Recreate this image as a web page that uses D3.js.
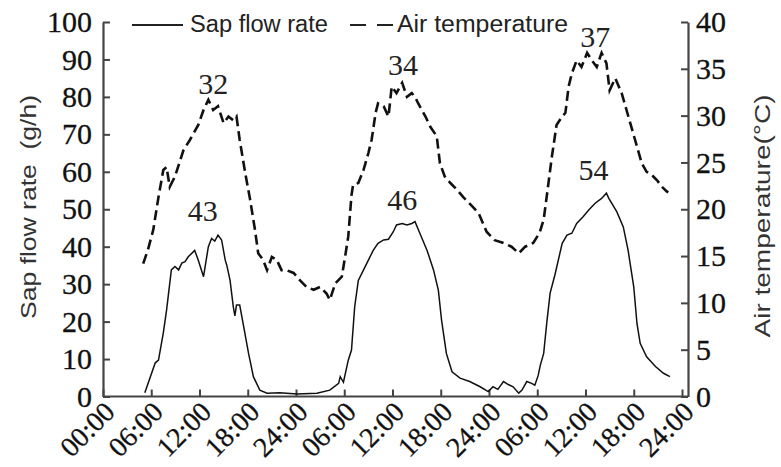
<!DOCTYPE html>
<html>
<head>
<meta charset="utf-8">
<script src="https://cdn.jsdelivr.net/npm/d3@7"></script>
<style>
  body { margin: 0; background: #fff; }
  svg { display: block; }
</style>
</head>
<body>
<svg id="chart"></svg>
<script>
// hours since 00:00 of day 1
const sapHours = [5.2, 6.5, 6.9, 7.5, 7.9, 8.5, 8.95, 9.4, 9.8, 10.2, 10.6, 11.4, 11.85, 12.5, 13.1, 13.5, 13.9, 14.3, 14.75, 15.2, 15.4, 15.8, 16.2, 16.4, 16.6, 17.0, 17.5, 18.1, 18.7, 19.5, 20.4, 22, 24.1, 26.6, 28.2, 29.3, 29.5, 29.9, 30.5, 30.9, 31.3, 31.75, 32.4, 33, 33.6, 34.2, 34.9, 35.5, 36.1, 36.5, 37.2, 37.8, 38.4, 38.8, 39.4, 40.3, 41.1, 41.7, 42.1, 42.7, 43.4, 44.4, 45.6, 46.9, 47.9, 48.5, 49.1, 49.8, 50.4, 51, 51.7, 52.1, 52.7, 53.3, 53.7, 54.1, 54.4, 54.8, 55.2, 55.6, 56.2, 57.1, 57.7, 58.3, 58.9, 59.7, 60.4, 61.2, 62, 62.6, 62.9, 63.9, 64.7, 65.3, 66, 66.4, 66.8, 67.6, 68.7, 69.7, 70.5];
const sapFlow = [1, 9, 9.7, 17, 23, 33.8, 34.7, 33.8, 35.6, 36, 37.3, 39, 36.4, 32, 40, 42.2, 41.5, 43.1, 41.8, 36.4, 35, 31, 24, 21.5, 24.4, 24.4, 18.6, 11.5, 5.3, 1.7, 0.9, 1, 0.7, 0.9, 1.7, 3.5, 5.3, 3.8, 9.7, 12.4, 24, 31, 33.8, 36.4, 39, 40.9, 41.8, 42, 44, 45.8, 46.2, 45.8, 46.2, 46.7, 43.6, 39, 33.8, 28.4, 20.4, 11.5, 6.6, 4.9, 4, 2.6, 1.3, 2.6, 1.9, 4, 3.2, 2.6, 0.9, 1.7, 4, 3.5, 3.0, 5.5, 8.5, 11.5, 20, 27.6, 32.5, 40.9, 43.1, 43.6, 46.2, 48, 49.8, 51.6, 52.9, 54.3, 52.9, 49.3, 45.3, 39, 29.3, 19.5, 14.2, 10.6, 8, 6.2, 5.3];

const tempHours = [5.0, 5.6, 6.25, 6.9, 7.5, 7.9, 8.3, 8.95, 10, 10.8, 11.85, 12.5, 13.1, 13.7, 14.3, 15, 15.6, 16.2, 16.6, 17.0, 17.7, 18.3, 18.9, 19.3, 19.9, 20.4, 21, 21.6, 22.2, 22.8, 23.7, 24.5, 25.3, 26.2, 27, 27.8, 28.2, 28.9, 29.7, 30.1, 30.5, 30.9, 31.1, 31.75, 32.4, 33, 33.4, 33.9, 34.2, 34.9, 35.5, 35.9, 36.5, 37.2, 37.8, 38.4, 38.8, 39.2, 40.1, 40.7, 41.5, 41.9, 42.5, 43.2, 44, 44.8, 45.6, 46.7, 47.7, 48.7, 49.8, 50.8, 51.7, 52.5, 53.5, 54.3, 54.8, 55.2, 55.8, 56.4, 57.1, 57.5, 57.9, 58.3, 58.9, 59.5, 60.2, 60.8, 61.4, 62, 62.6, 63, 63.7, 64.5, 65.1, 65.8, 66.4, 67, 67.6, 68.2, 68.9, 69.5, 70.1, 70.3];
const airTemp = [14.2, 15.7, 17.8, 21.3, 24.2, 24.5, 22.4, 23.5, 26.3, 27.4, 29, 30.6, 31.7, 30.6, 31, 29.2, 29.9, 29.5, 29.9, 27.4, 23.8, 21, 17.8, 15.3, 14.6, 13.5, 14.9, 14.6, 13.5, 13.5, 13.2, 12.4, 11.7, 11.4, 11.7, 11, 10.3, 12.1, 12.8, 14.9, 17.1, 21.5, 22.6, 22.8, 24.2, 26, 27.4, 30.3, 31.3, 31, 29.9, 33.1, 32.4, 33.5, 32, 32.4, 32, 31.3, 29.9, 28.8, 27.8, 24.9, 23.5, 22.8, 22.1, 21.3, 20.6, 19.6, 17.6, 16.7, 16.4, 16, 15.3, 16, 16.4, 17.5, 18.9, 21.5, 25.5, 29, 29.9, 30.3, 33.1, 34.5, 35.9, 35.2, 36.7, 35.9, 35.2, 36.7, 35.6, 32.7, 34, 32.4, 30.6, 28.5, 26.7, 24.9, 24, 23.7, 23.1, 22.4, 21.9, 21.8];

const tickHours = [0, 6, 12, 18, 24, 30, 36, 42, 48, 54, 60, 66, 72];
const tickLabels = ["00:00", "06:00", "12:00", "18:00", "24:00", "06:00", "12:00", "18:00", "24:00", "06:00", "12:00", "18:00", "24:00"];

// daily peak annotations
const sapPeakHours = [12.4, 37.2, 61];
const sapPeaks = [43, 46, 54];
const tempPeakHours = [13.7, 37.3, 61.2];
const tempPeaks = [32, 34, 37];

const width = 781, height = 467;
const plotLeft = 103, plotRight = 682, frameRight = 688, plotTop = 22, plotBottom = 396.5;

const svg = d3.select("#chart")
  .attr("width", width)
  .attr("height", height)
  .style("background", "#fff");

const x = d3.scaleLinear().domain([0, 72]).range([plotLeft, plotRight]);
const yL = d3.scaleLinear().domain([0, 100]).range([plotBottom, plotTop]);
const yR = d3.scaleLinear().domain([0, 40]).range([plotBottom, plotTop]);

const serif = "'Liberation Serif', 'Times New Roman', serif";
const sans = "'Liberation Sans', Arial, sans-serif";
const axisColor = "#444";

// left axis
const gL = svg.append("g")
  .attr("transform", `translate(${plotLeft},0)`)
  .call(d3.axisLeft(yL).ticks(10).tickSizeInner(-7).tickSizeOuter(0).tickPadding(11));

// right axis
const gR = svg.append("g")
  .attr("transform", `translate(${frameRight},0)`)
  .call(d3.axisRight(yR).tickValues(d3.range(0, 41, 5)).tickSizeInner(-7).tickSizeOuter(0).tickPadding(8));

// bottom axis
const gB = svg.append("g")
  .attr("transform", `translate(0,${plotBottom})`)
  .call(d3.axisBottom(x).tickValues(tickHours).tickFormat((d, i) => tickLabels[i]).tickSizeInner(-7).tickSizeOuter(0));

gB.select(".domain").remove();
gB.append("line")
  .attr("x1", plotLeft).attr("x2", frameRight)
  .attr("stroke", axisColor).attr("stroke-width", 2.2);

[gL, gR, gB].forEach(g => {
  g.selectAll(".domain").attr("stroke", axisColor).attr("stroke-width", 2.2);
  g.selectAll(".tick line").attr("stroke", axisColor).attr("stroke-width", 2);
  g.selectAll(".tick text")
    .style("font-family", serif)
    .style("font-size", "30px")
    .attr("fill", "#111")
    .attr("stroke", "#111")
    .attr("stroke-width", 0.3);
});

gB.selectAll(".tick text")
  .style("font-size", "28px")
  .attr("y", 0).attr("dy", 0)
  .attr("text-anchor", "end")
  .attr("transform", "translate(13,17) rotate(-45)");

// lines
const sapData = sapHours.map((h, i) => [h, sapFlow[i]]);
const tempData = tempHours.map((h, i) => [h, airTemp[i]]);

svg.append("path")
  .datum(tempData)
  .attr("fill", "none")
  .attr("stroke", "#111")
  .attr("stroke-width", 2.6)
  .attr("stroke-dasharray", "10,5")
  .attr("d", d3.line().x(d => x(d[0])).y(d => yR(d[1])));

svg.append("path")
  .datum(sapData)
  .attr("fill", "none")
  .attr("stroke", "#111")
  .attr("stroke-width", 1.5)
  .attr("d", d3.line().x(d => x(d[0])).y(d => yL(d[1])));

// peak labels
svg.selectAll(".sap-peak")
  .data(sapPeaks)
  .enter()
  .append("text")
  .attr("class", "sap-peak")
  .attr("x", (d, i) => x(sapPeakHours[i]))
  .attr("y", d => yL(d) - 14)
  .attr("text-anchor", "middle")
  .style("font-family", serif)
  .style("font-size", "30px")
  .attr("fill", "#222")
  .text(d => d);

svg.selectAll(".temp-peak")
  .data(tempPeaks)
  .enter()
  .append("text")
  .attr("class", "temp-peak")
  .attr("x", (d, i) => x(tempPeakHours[i]))
  .attr("y", d => yR(d) - 3)
  .attr("text-anchor", "middle")
  .style("font-family", serif)
  .style("font-size", "30px")
  .attr("fill", "#222")
  .text(d => d);

// axis titles
svg.append("text")
  .attr("transform", "translate(36,207) rotate(-90)")
  .attr("text-anchor", "middle")
  .style("font-family", sans)
  .style("font-size", "22px")
  .attr("fill", "#333")
  .attr("textLength", 224)
  .attr("lengthAdjust", "spacingAndGlyphs")
  .attr("xml:space", "preserve")
  .text("Sap flow rate  (g/h)");

svg.append("text")
  .attr("transform", "translate(770,216) rotate(-90)")
  .attr("text-anchor", "middle")
  .style("font-family", sans)
  .style("font-size", "22px")
  .attr("fill", "#333")
  .attr("textLength", 243)
  .attr("lengthAdjust", "spacingAndGlyphs")
  .text("Air temperature(°C)");

// legend
const legend = svg.append("g");
legend.append("line")
  .attr("x1", 132).attr("x2", 183).attr("y1", 25).attr("y2", 25)
  .attr("stroke", "#222").attr("stroke-width", 1.8);
legend.append("text")
  .attr("x", 190).attr("y", 32)
  .style("font-family", sans).style("font-size", "23px")
  .attr("fill", "#222")
  .attr("textLength", 138)
  .attr("lengthAdjust", "spacingAndGlyphs")
  .text("Sap flow rate");
legend.append("line")
  .attr("x1", 350).attr("x2", 393).attr("y1", 25).attr("y2", 25)
  .attr("stroke", "#222").attr("stroke-width", 2.2)
  .attr("stroke-dasharray", "16,11");
legend.append("text")
  .attr("x", 397).attr("y", 32)
  .style("font-family", sans).style("font-size", "23px")
  .attr("fill", "#222")
  .attr("textLength", 171)
  .attr("lengthAdjust", "spacingAndGlyphs")
  .text("Air temperature");
</script>
</body>
</html>
